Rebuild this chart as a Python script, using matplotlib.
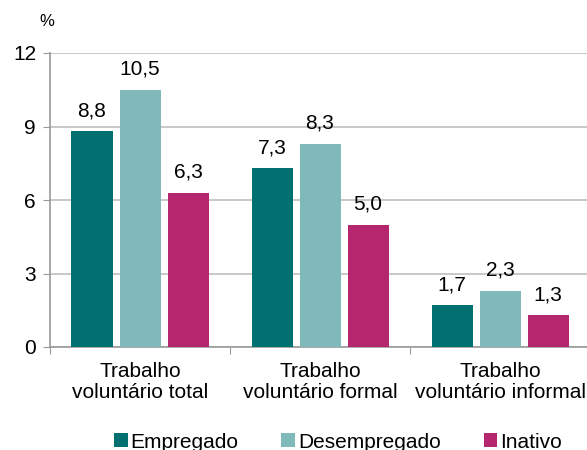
import matplotlib
matplotlib.use("Agg")
import matplotlib.pyplot as plt
import numpy as np
from matplotlib.patches import Patch

categories = ["Trabalho\nvoluntário total", "Trabalho\nvoluntário formal", "Trabalho\nvoluntário informal"]
series_names = ["Empregado", "Desempregado", "Inativo"]
empregado = [8.8, 7.3, 1.7]
desempregado = [10.5, 8.3, 2.3]
inativo = [6.3, 5.0, 1.3]
colors = ["#007170", "#80b9b9", "#b5266f"]
yticks = [0, 3, 6, 9, 12]

plt.rcParams['font.family'] = ['Liberation Sans', 'DejaVu Sans']
FS = 15

fig = plt.figure(figsize=(5.87, 4.5), dpi=100)
ax = fig.add_axes([50/587, 1-347/450, 540/587, 294/450])

x = np.arange(len(categories))
w = 41/180
step = 48/180
for i, (vals, c) in enumerate(zip([empregado, desempregado, inativo], colors)):
    xs = x + (i-1)*step
    ax.bar(xs, vals, width=w, color=c, zorder=3)
    for xi, v in zip(xs, vals):
        ax.text(xi, v + 0.45, f"{v:.1f}".replace(".", ","), ha="center", va="bottom", fontsize=FS, color="#000000")

ax.set_xlim(-0.5, 2.5)
ax.set_ylim(0, 12)
ax.set_yticks(yticks)
ax.set_yticklabels([str(t) for t in yticks], fontsize=FS)
ax.yaxis.grid(True, color="#bfbfbf", linewidth=1.2, zorder=0)
ax.set_axisbelow(True)
for s in ["top", "right"]:
    ax.spines[s].set_visible(False)
ax.spines["left"].set_color("#999999")
ax.spines["bottom"].set_color("#999999")
ax.spines["left"].set_linewidth(1.2)
ax.spines["bottom"].set_linewidth(1.2)
ax.tick_params(axis="y", length=5, color="#999999", pad=5)

ax.set_xticks([-0.5, 0.5, 1.5, 2.5])
ax.set_xticklabels([])
ax.tick_params(axis="x", length=5, color="#999999")
for xi, lab in zip(x, categories):
    ax.text(xi, -0.6, lab, ha="center", va="top", fontsize=FS, linespacing=1.15)

fig.text(47/587, 1-22/450, "%", fontsize=12, ha="center", va="center")

handles = [Patch(facecolor=c, edgecolor="none") for c in colors]
fig.legend(handles, series_names, loc="center", bbox_to_anchor=(338/587, 1-442/450),
           ncol=3, frameon=False, fontsize=FS, handlelength=0.65, handleheight=0.65,
           handletextpad=0.15, columnspacing=2.05, borderpad=0)

fig.savefig("out.png", dpi=100)
